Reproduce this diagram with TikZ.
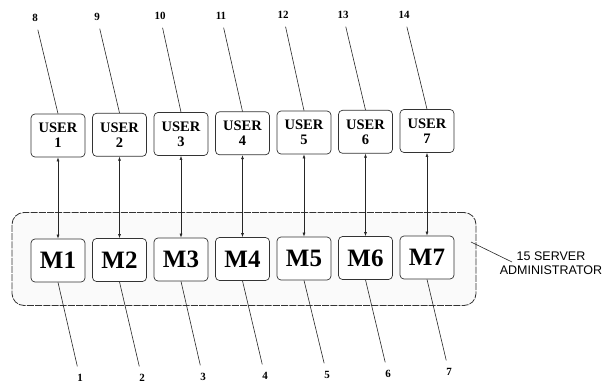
\documentclass[tikz,border=0pt]{standalone}
\usepackage{fontspec}
\setmainfont{Liberation Serif}
\newfontfamily\labsans{Liberation Sans}
\usetikzlibrary{arrows.meta}
\begin{document}
\begin{tikzpicture}[x=1pt,y=-1pt,
  userbox/.style={draw=black!80,fill=white,line width=0.7pt,rounded corners=4pt,minimum width=54pt,minimum height=43pt,inner sep=0pt,align=center,font=\fontsize{14.5}{15}\selectfont\bfseries},
  mbox/.style={draw=black!80,fill=white,line width=0.7pt,rounded corners=4pt,minimum width=54pt,minimum height=43pt,inner sep=0pt,font=\fontsize{25}{27}\selectfont\bfseries},
  numlab/.style={inner sep=1pt,font=\fontsize{11}{12}\selectfont\bfseries},
  leader/.style={draw=black!85,line width=0.6pt},
  link/.style={draw=black!85,line width=0.6pt,{Latex[length=4pt,width=3pt]}-{Latex[length=4pt,width=3pt]}}
]
\useasboundingbox (0,0) rectangle (612,383);
% server area
\node[draw=black!80,line width=0.8pt,dash pattern=on 7pt off 1.2pt,rounded corners=12pt,fill=gray!4,minimum width=464pt,minimum height=93pt,inner sep=0pt] (srv) at (244,259) {};
% users
\node[userbox] (u1) at (58,135.5) {USER\\1};
\node[userbox] (u2) at (119.5,134.8) {USER\\2};
\node[userbox] (u3) at (181,134) {USER\\3};
\node[userbox] (u4) at (242.5,133.3) {USER\\4};
\node[userbox] (u5) at (304,132.5) {USER\\5};
\node[userbox] (u6) at (365.5,131.8) {USER\\6};
\node[userbox] (u7) at (427,131) {USER\\7};
% modules
\node[mbox] (m1) at (58,260.5) {M1};
\node[mbox] (m2) at (119.5,260) {M2};
\node[mbox] (m3) at (181,259.5) {M3};
\node[mbox] (m4) at (242.5,259) {M4};
\node[mbox] (m5) at (304,258.5) {M5};
\node[mbox] (m6) at (365.5,258) {M6};
\node[mbox] (m7) at (427,257.5) {M7};
% links
\foreach \i in {1,...,7} {\draw[link] (u\i.south) -- (m\i.north);}
% top labels
\node[numlab] (t8) at (35,18) {8};
\node[numlab] (t9) at (97,17) {9};
\node[numlab] (t10) at (160,16) {10};
\node[numlab] (t11) at (221,16) {11};
\node[numlab] (t12) at (283,15) {12};
\node[numlab] (t13) at (343,15) {13};
\node[numlab] (t14) at (404,15) {14};
\draw[leader,shorten <=7pt] (t8) -- (u1.north);
\draw[leader,shorten <=7pt] (t9) -- (u2.north);
\draw[leader,shorten <=7pt] (t10) -- (u3.north);
\draw[leader,shorten <=7pt] (t11) -- (u4.north);
\draw[leader,shorten <=7pt] (t12) -- (u5.north);
\draw[leader,shorten <=7pt] (t13) -- (u6.north);
\draw[leader,shorten <=7pt] (t14) -- (u7.north);
% bottom labels
\node[numlab] (b1) at (80,378) {1};
\node[numlab] (b2) at (142,378) {2};
\node[numlab] (b3) at (203,377) {3};
\node[numlab] (b4) at (265,376) {4};
\node[numlab] (b5) at (327,375) {5};
\node[numlab] (b6) at (388,374) {6};
\node[numlab] (b7) at (449,372) {7};
\draw[leader,shorten >=7pt] (m1.south) -- (b1);
\draw[leader,shorten >=7pt] (m2.south) -- (b2);
\draw[leader,shorten >=7pt] (m3.south) -- (b3);
\draw[leader,shorten >=7pt] (m4.south) -- (b4);
\draw[leader,shorten >=7pt] (m5.south) -- (b5);
\draw[leader,shorten >=7pt] (m6.south) -- (b6);
\draw[leader,shorten >=7pt] (m7.south) -- (b7);
% server label
\node[align=center,inner sep=1pt,font=\labsans\fontsize{12.5}{14}\selectfont] (slab) at (551,263) {15 SERVER\\ADMINISTRATOR};
\coordinate (sin) at (471,242);
\draw[leader] (sin) -- (512,262);
\end{tikzpicture}
\end{document}
